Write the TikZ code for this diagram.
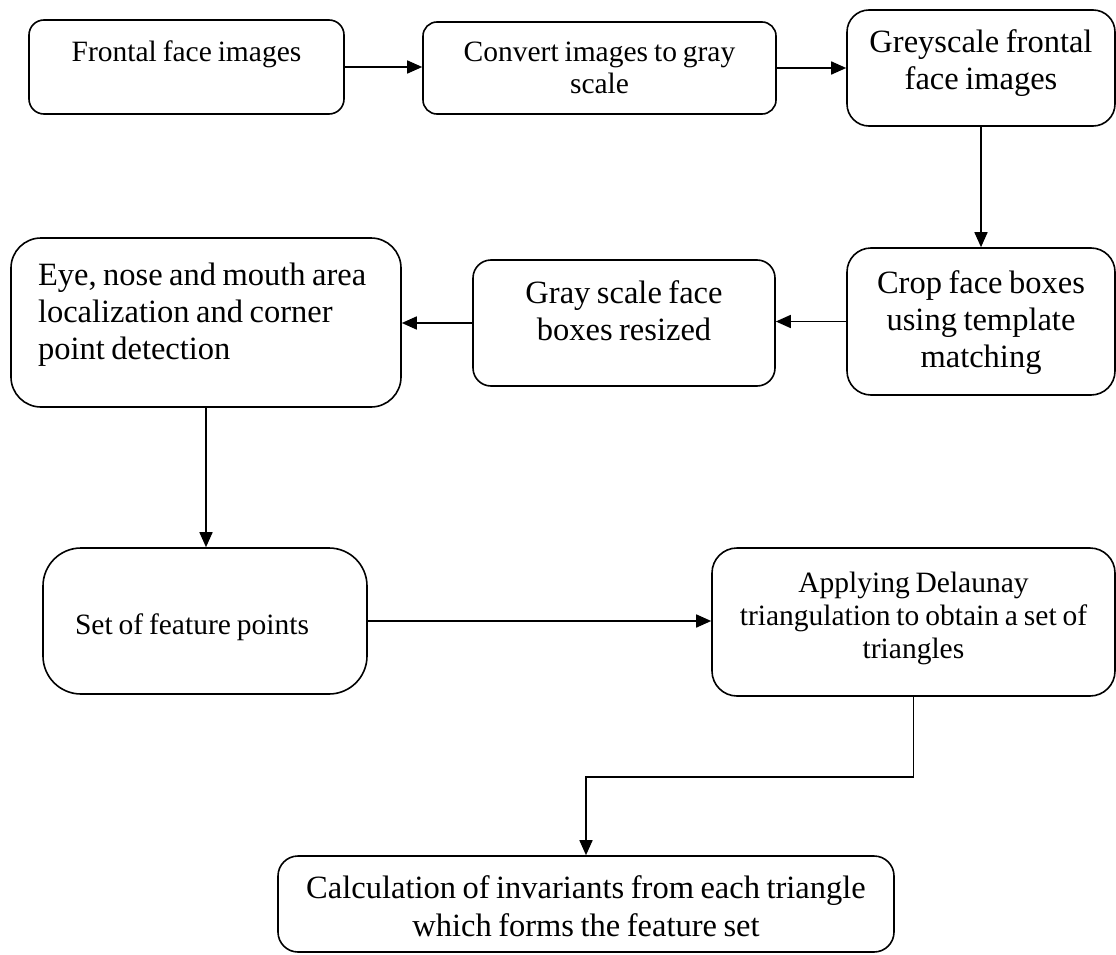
\documentclass[tikz,border=0pt]{standalone}
\usepackage{fontspec}
\setmainfont{Liberation Serif}[WordSpace=0.8]
\usepackage{tikz}
\usetikzlibrary{arrows.meta}

\begin{document}
\begin{tikzpicture}[x=1pt,y=-1pt,line width=1.6pt]
  \tikzstyle{box}=[draw,anchor=base,inner ysep=0pt,inner xsep=5pt,align=flush center]
  \tikzstyle{smalltxt}=[font=\fontsize{29.5pt}{33pt}\selectfont]
  \tikzstyle{bigtxt}=[font=\fontsize{32.5pt}{37pt}\selectfont]
  \tikzstyle{flow}=[-{Triangle[length=15pt,width=13pt]}]
  \useasboundingbox (0,0) rectangle (1116,955);

  % first row
  \node[box,smalltxt,rounded corners=15pt,text width=305pt,text height=42pt,text depth=52pt] (frontal) at (186.5,62) {Frontal face images};
  \node[box,rounded corners=14pt,text width=343pt,text height=40pt,text depth=52pt,font=\fontsize{29.5pt}{32pt}\selectfont] (convert) at (599.5,62) {Convert images to gray\\scale};
  \node[box,bigtxt,rounded corners=22pt,text width=258pt,text height=43pt,text depth=73pt] (grey) at (981,53) {Greyscale frontal\\face images};

  % second row
  \node[box,bigtxt,rounded corners=24pt,text width=258pt,text height=45pt,text depth=102pt] (crop) at (981,293) {Crop face boxes\\using template\\matching};
  \node[box,bigtxt,rounded corners=18pt,text width=292pt,text height=43pt,text depth=83pt] (resized) at (624,303) {Gray scale face\\boxes resized};
  \node[box,bigtxt,rounded corners=30pt,align=flush left,inner xsep=27pt,text width=336pt,text height=47pt,text depth=122pt] (eye) at (206,285) {Eye, nose and mouth area\\localization and corner\\point detection};

  % third row
  \node[box,smalltxt,rounded corners=38pt,align=flush left,inner xsep=32pt,text width=260pt,text height=86pt,text depth=60pt] (points) at (205,634) {Set of feature points};
  \node[box,smalltxt,rounded corners=25pt,text width=393pt,text height=44pt,text depth=104pt] (delaunay) at (913.5,592) {Applying Delaunay\\triangulation to obtain a set of\\triangles};

  % last box
  \node[box,bigtxt,rounded corners=20pt,text width=606pt,text height=42pt,text depth=54pt,font=\fontsize{32.5pt}{38pt}\selectfont] (invariants) at (586,898) {Calculation of invariants from each triangle\\which forms the feature set};

  \draw[flow] (frontal.east) -- (frontal.east -| convert.west);
  \draw[flow] (convert.east) -- (convert.east -| grey.west);
  \draw[flow] (grey) -- (crop);
  \draw[flow] (crop.west) -- (crop.west -| resized.east);
  \draw[flow] (resized.west) -- (resized.west -| eye.east);
  \draw[flow] (eye.south) -- (eye.south |- points.north);
  \draw[flow] (points.east) -- (points.east -| delaunay.west);
  \draw[flow] (delaunay.south) -- ++(0,80) -| (invariants.north);
\end{tikzpicture}
\end{document}
